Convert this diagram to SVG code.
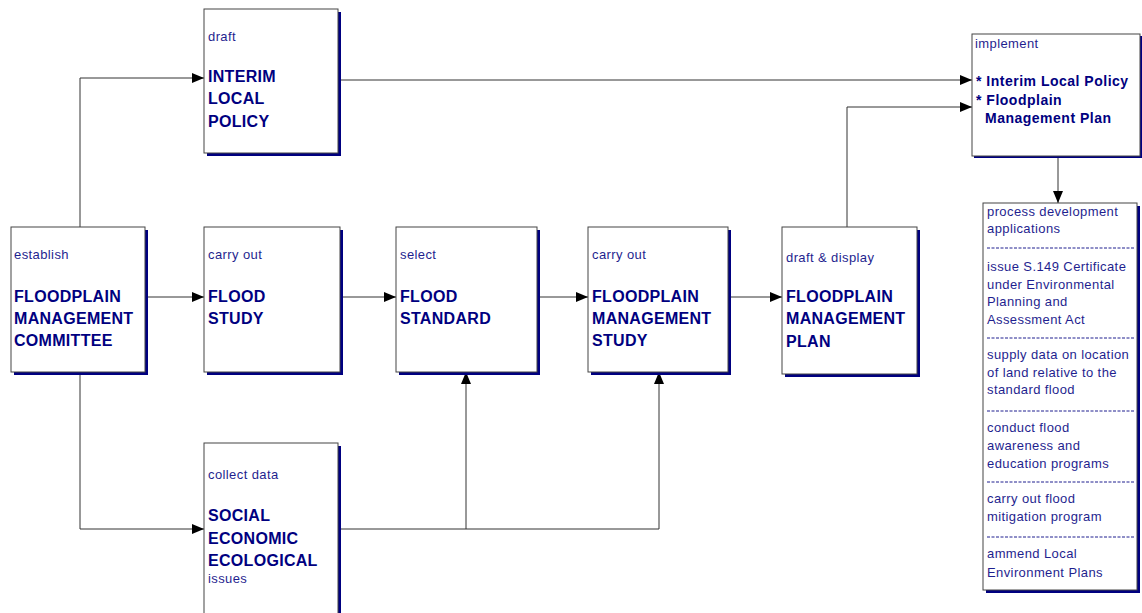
<svg xmlns="http://www.w3.org/2000/svg" width="1142" height="613" viewBox="0 0 1142 613">
<style>
.box{fill:#fff;stroke:#444;stroke-width:1}
.sh{fill:#000080}
.s{font-family:"Liberation Sans",Arial,sans-serif;font-size:13px;fill:#1f1f8f;letter-spacing:0.4px}
.b{font-family:"Liberation Sans",Arial,sans-serif;font-size:16px;font-weight:bold;fill:#000080;letter-spacing:0.3px}
.bi{font-family:"Liberation Sans",Arial,sans-serif;font-size:14px;font-weight:bold;fill:#000080;letter-spacing:0.5px}
.c{fill:none;stroke:#333;stroke-width:1}
.d{stroke:#1f1f8f;stroke-width:1;stroke-dasharray:3,1.5}
</style>
<defs>
<marker id="ah" markerUnits="userSpaceOnUse" markerWidth="12" markerHeight="10" refX="12" refY="5" orient="auto">
<path d="M0,0 L12,5 L0,10 z" fill="#000"/>
</marker>
</defs>
<rect width="1142" height="613" fill="#fff"/>
<g id="connectors">
<path class="c" d="M80,227 V78 H204" marker-end="url(#ah)"/>
<path class="c" d="M80,372 V529 H204" marker-end="url(#ah)"/>
<path class="c" d="M145,297 H204" marker-end="url(#ah)"/>
<path class="c" d="M340,297 H396" marker-end="url(#ah)"/>
<path class="c" d="M537,297 H588" marker-end="url(#ah)"/>
<path class="c" d="M728,297 H782" marker-end="url(#ah)"/>
<path class="c" d="M338,529 H466 V372" marker-end="url(#ah)"/>
<path class="c" d="M466,529 H659 V372" marker-end="url(#ah)"/>
<path class="c" d="M338,80 H972" marker-end="url(#ah)"/>
<path class="c" d="M847,227 V107 H972" marker-end="url(#ah)"/>
<path class="c" d="M1058,156 V203" marker-end="url(#ah)"/>
</g>
<g id="committee">
<rect class="sh" x="14" y="230" width="134" height="145"/>
<rect class="box" x="11" y="227" width="134" height="145"/>
<text class="s" x="14" y="259">establish</text>
<text class="b" x="14" y="302">FLOODPLAIN</text>
<text class="b" x="14" y="324">MANAGEMENT</text>
<text class="b" x="14" y="346">COMMITTEE</text>
</g>
<g id="interim">
<rect class="sh" x="207" y="12" width="134" height="144"/>
<rect class="box" x="204" y="9" width="134" height="144"/>
<text class="s" x="208" y="41">draft</text>
<text class="b" x="208" y="82">INTERIM</text>
<text class="b" x="208" y="104">LOCAL</text>
<text class="b" x="208" y="127">POLICY</text>
</g>
<g id="floodstudy">
<rect class="sh" x="207" y="230" width="136" height="145"/>
<rect class="box" x="204" y="227" width="136" height="145"/>
<text class="s" x="208" y="259">carry out</text>
<text class="b" x="208" y="302">FLOOD</text>
<text class="b" x="208" y="324">STUDY</text>
</g>
<g id="floodstandard">
<rect class="sh" x="399" y="230" width="141" height="145"/>
<rect class="box" x="396" y="227" width="141" height="145"/>
<text class="s" x="400" y="259">select</text>
<text class="b" x="400" y="302">FLOOD</text>
<text class="b" x="400" y="324">STANDARD</text>
</g>
<g id="fmstudy">
<rect class="sh" x="591" y="230" width="140" height="145"/>
<rect class="box" x="588" y="227" width="140" height="145"/>
<text class="s" x="592" y="259">carry out</text>
<text class="b" x="592" y="302">FLOODPLAIN</text>
<text class="b" x="592" y="324">MANAGEMENT</text>
<text class="b" x="592" y="346">STUDY</text>
</g>
<g id="fmplan">
<rect class="sh" x="785" y="230" width="135" height="147"/>
<rect class="box" x="782" y="227" width="135" height="147"/>
<text class="s" x="786" y="262">draft &amp; display</text>
<text class="b" x="786" y="302">FLOODPLAIN</text>
<text class="b" x="786" y="324">MANAGEMENT</text>
<text class="b" x="786" y="347">PLAN</text>
</g>
<g id="social">
<rect class="sh" x="207" y="446" width="134" height="180"/>
<rect class="box" x="204" y="443" width="134" height="180"/>
<text class="s" x="208" y="479">collect data</text>
<text class="b" x="208" y="521">SOCIAL</text>
<text class="b" x="208" y="544">ECONOMIC</text>
<text class="b" x="208" y="566">ECOLOGICAL</text>
<text class="s" x="208" y="583">issues</text>
</g>
<g id="implement">
<rect class="sh" x="974" y="36" width="168" height="122"/>
<rect class="box" x="972" y="34" width="168" height="122"/>
<text class="s" x="975" y="48">implement</text>
<text class="bi" x="976" y="86">* Interim Local Policy</text>
<text class="bi" x="976" y="105">* Floodplain</text>
<text class="bi" x="985" y="123">Management Plan</text>
</g>
<g id="actions">
<rect class="sh" x="986" y="206" width="154" height="387"/>
<rect class="box" x="983" y="203" width="154" height="387"/>
<text class="s" x="987" y="216">process development</text>
<text class="s" x="987" y="233">applications</text>
<line class="d" x1="987" y1="248" x2="1134" y2="248"/>
<text class="s" x="987" y="271">issue S.149 Certificate</text>
<text class="s" x="987" y="289">under Environmental</text>
<text class="s" x="987" y="306">Planning and</text>
<text class="s" x="987" y="324">Assessment Act</text>
<line class="d" x1="987" y1="338" x2="1134" y2="338"/>
<text class="s" x="987" y="359">supply data on location</text>
<text class="s" x="987" y="377">of land relative to the</text>
<text class="s" x="987" y="394">standard flood</text>
<line class="d" x1="987" y1="411" x2="1134" y2="411"/>
<text class="s" x="987" y="432">conduct flood</text>
<text class="s" x="987" y="450">awareness and</text>
<text class="s" x="987" y="468">education programs</text>
<line class="d" x1="987" y1="482" x2="1134" y2="482"/>
<text class="s" x="987" y="503">carry out flood</text>
<text class="s" x="987" y="521">mitigation program</text>
<line class="d" x1="987" y1="537" x2="1134" y2="537"/>
<text class="s" x="987" y="558">ammend Local</text>
<text class="s" x="987" y="577">Environment Plans</text>
</g>
</svg>
